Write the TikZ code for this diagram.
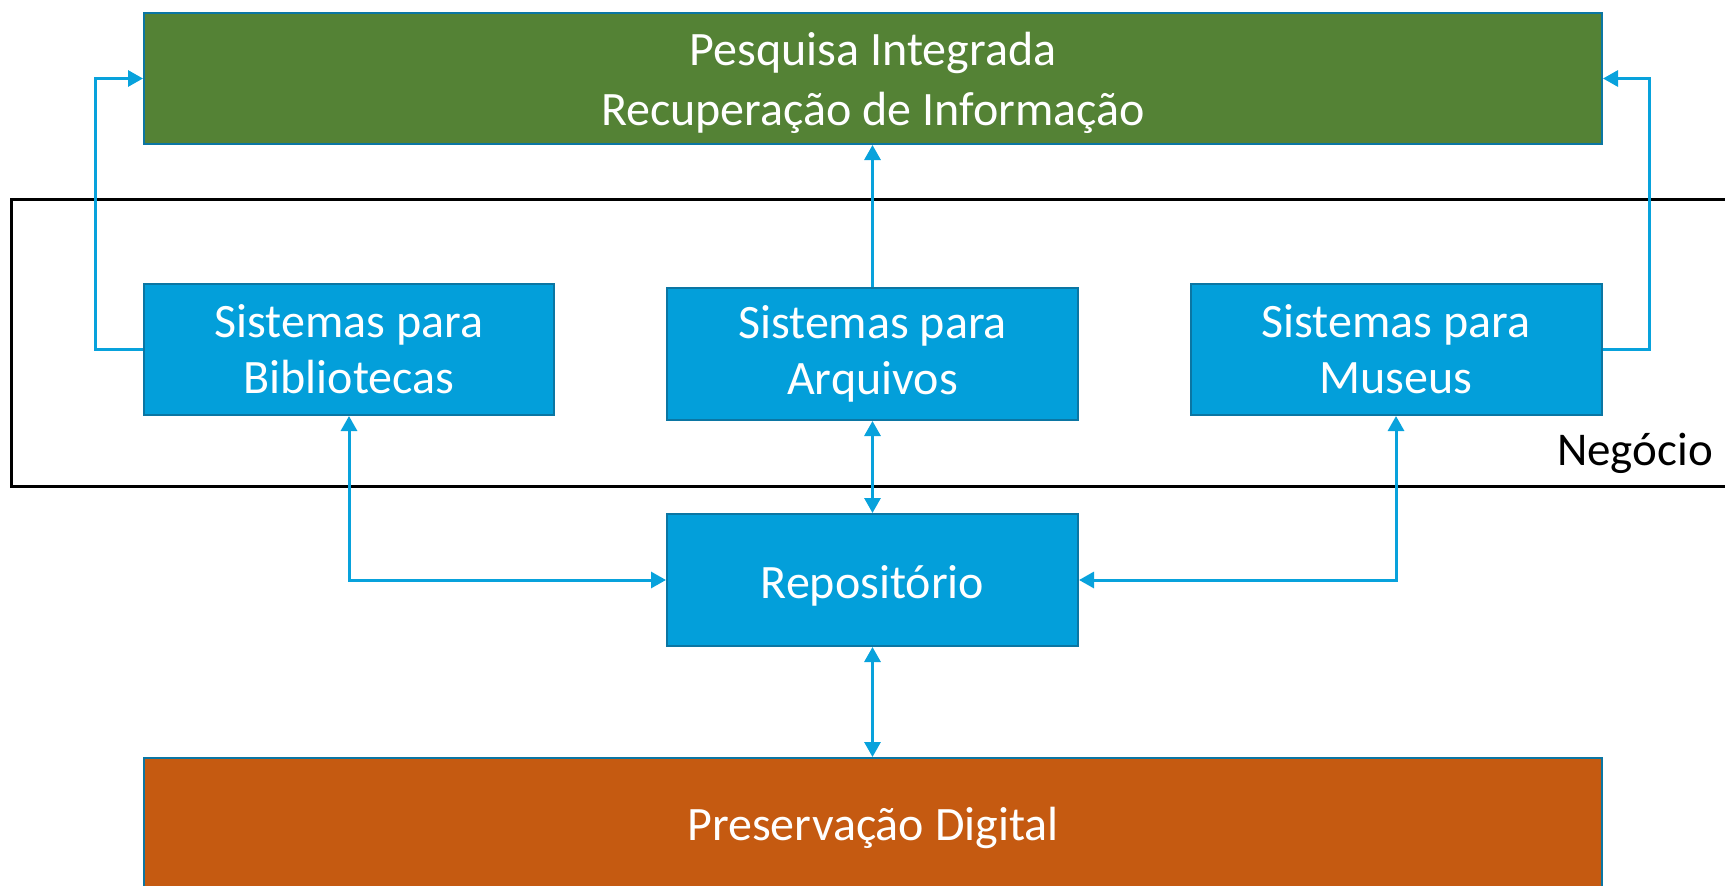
\documentclass[tikz,border=0pt]{standalone}
\usepackage{fontspec}
\setmainfont{Carlito}
\usetikzlibrary{arrows.meta,calc}
\definecolor{boxblue}{HTML}{039FDA}
\definecolor{boxedge}{HTML}{0B76A3}
\definecolor{conncol}{HTML}{08A2DC}
\definecolor{pgreen}{HTML}{548235}
\definecolor{porange}{HTML}{C55A11}
\tikzset{
  box/.style={draw=boxedge, line width=2pt, fill=boxblue, text=white, align=center,
    inner sep=0pt, font=\fontsize{48}{56}\selectfont},
  boxtext/.style={text=white, align=center, inner sep=0pt, font=\fontsize{48}{60}\selectfont},
  conn/.style={draw=conncol, line width=3pt, arrows={-}},
  tip/.style={-{Triangle[length=15pt,width=16pt]}},
  tips/.style={{Triangle[length=15pt,width=16pt]}-{Triangle[length=15pt,width=16pt]}},
}
\begin{document}
\begin{tikzpicture}[x=1pt,y=-1pt]
\useasboundingbox (0,0) rectangle (1725,886);
\clip (0,0) rectangle (1725,886);
% Negocio frame
\draw[line width=3pt] (1740,199.5) -- (11.5,199.5) -- (11.5,486.5) -- (1740,486.5);
\node[anchor=base east, font=\fontsize{47}{55}\selectfont, inner sep=0pt] (neg) at (1713,465) {Negócio};
% boxes
\node[box, fill=pgreen, minimum width=1458pt, minimum height=131pt] (pes) at (873,78.5) {};
\node[boxtext] (pestext) at ($(pes.center)+(0,4)$) {Pesquisa Integrada\\Recuperação de Informação};
\node[box, minimum width=410pt, minimum height=131pt] (lib) at (349,349.5) {Sistemas para\\Bibliotecas};
\node[box, minimum width=411pt, minimum height=132pt] (arq) at (872.5,354) {Sistemas para\\Arquivos};
\node[box, minimum width=411pt, minimum height=131pt] (mus) at (1396,349.5) {Sistemas para\\Museus};
\node[box, minimum width=411pt, minimum height=132pt] (rep) at (872.5,580) {\raisebox{-5.5pt}[\height][\depth]{Repositório}};
\node[box, fill=porange, minimum width=1458pt, minimum height=134pt] (pre) at (873,825) {\raisebox{-2.5pt}[\height][\depth]{Preservação Digital}};
% connectors
\draw[conn,tip] (lib.west) -- ++(-48,0) |- (pes.west);
\draw[conn,tip] (mus.east) -- ++(47,0) |- (pes.east);
\draw[conn,tip] (arq.north) -- (pes.south -| arq.north);
\draw[conn,tips] (arq.south) -- (rep.north);
\draw[conn,tips] (lib.south) |- (rep.west);
\draw[conn,tips] (mus.south) |- (rep.east);
\draw[conn,tips] (rep.south) -- (pre.north -| rep.south);
\end{tikzpicture}
\end{document}
